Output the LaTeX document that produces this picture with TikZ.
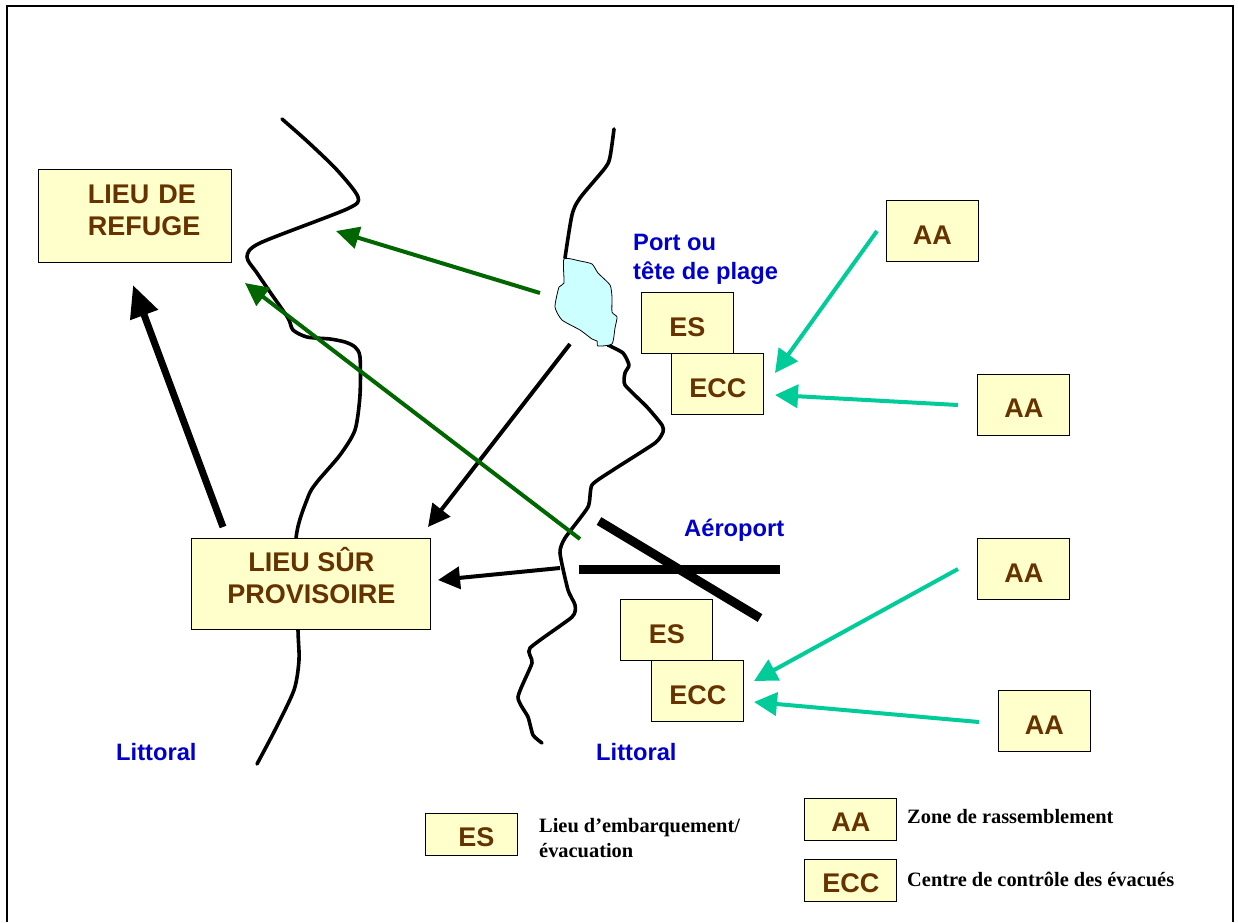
\documentclass[tikz,border=0pt]{standalone}
\usepackage{fontspec,xcolor}
\setmainfont{Liberation Sans}
\newfontfamily\legendfont{Liberation Serif}
\usetikzlibrary{arrows.meta}
\definecolor{boxfill}{HTML}{FFFFCC}
\definecolor{boxtext}{HTML}{663300}
\definecolor{placeblue}{HTML}{0000CC}
\definecolor{routegreen}{HTML}{006600}
\definecolor{routeteal}{HTML}{00CC99}
\definecolor{lakefill}{HTML}{CCFFFF}
\tikzset{
bigbox/.style={draw=black,line width=1pt,fill=boxfill,text=boxtext,inner sep=0pt,xshift=0.4pt,yshift=-0.4pt,font=\fontsize{27}{32}\selectfont\bfseries},
placebox/.style={bigbox,text height=25.5pt,text depth=0pt,minimum width=92pt,minimum height=61pt},
keybox/.style={placebox,text height=24pt,minimum height=42pt},
placename/.style={text=placeblue,inner sep=0pt,align=left,anchor=base west,font=\fontsize{23.7}{29}\selectfont\bfseries},
keytext/.style={inner sep=0pt,align=left,anchor=base west,font=\legendfont\fontsize{20.4}{25}\selectfont\bfseries},
coastline/.style={line width=3.6pt,line cap=round,line join=round},
runway/.style={line width=9pt},
bigroute/.style={line width=7pt,-{Triangle[length=32pt,width=28pt]}},
blackroute/.style={line width=4pt,-{Triangle[length=22pt,width=22pt]}},
greenroute/.style={color=routegreen,line width=4pt,-{Triangle[length=23pt,width=22pt]}},
tealroute/.style={color=routeteal,line width=4pt,-{Triangle[length=23pt,width=23pt]}}
}
\begin{document}
\begin{tikzpicture}[x=1pt,y=-1pt]
\useasboundingbox(0,0)rectangle(1238,922);
\draw[line width=1.6pt](7,922)--(7,6)--(1233,6)--(1233,922);
\draw[coastline]plot[smooth,tension=0.45]coordinates{(282,119)(308,142)(337,170)(358,197)(347,209)(260,243)(247,257)(257,273)(270,292)(288,318)(293,330)(307,337)(330,339)(345,342)(355,347)(360,357)(360,395)(355,430)(340,455)(317,482)(308,497)(296,539)(298,630)(299,660)(294,690)(275,730)(257,764)};
\draw[coastline]plot[smooth,tension=0.45]coordinates{(614,129)(610,157)(605,168)(580,198)(572,215)(565,258)};
\draw[coastline]plot[smooth,tension=0.35]coordinates{(608,345)(623,353)(629,365)(625,373)(625,385)(647,407)(662,425)(663,432)(655,443)(613,470)(592,485)(588,507)(565,538)(560,553)(568,590)(575,605)(572,617)(530,648)(532,663)(518,697)(528,717)(533,735)(542,743)};
\draw[fill=lakefill,line width=0.8pt]plot[smooth cycle,tension=0.35]coordinates{(564,259)(580,261)(592,264)(598,273)(610,285)(612,297)(612,312)(617,317)(615,328)(612,344)(598,346)(597,341)(592,339)(580,330)(562,320)(555,307)(559,287)(564,283)};
\draw[runway](579,569.5)--(780,569.5);
\draw[runway](599,521)--(760,618);
\node[bigbox,minimum width=193pt,minimum height=93pt,align=left,text width=193pt,text depth=44pt](refuge)at(135,216){\hspace*{49pt}LIEU DE\\\hspace*{49pt}REFUGE};
\node[bigbox,minimum width=239pt,minimum height=91pt,align=center,text depth=18pt](provisoire)at(311,584){LIEU SÛR\\PROVISOIRE};
\node[placebox](esport)at(687,323){ES};
\node[placebox](eccport)at(717.5,384){ECC};
\node[placebox](esair)at(666.5,630){ES};
\node[placebox](eccair)at(697.5,691){ECC};
\node[placebox](aaone)at(932,231){AA};
\node[placebox](aatwo)at(1023.5,404.5){AA};
\node[placebox](aathree)at(1023.5,569){AA};
\node[placebox](aafour)at(1044,721){AA};
\node[keybox](keyes)at(471.5,834.5){\hspace*{9pt}ES};
\node[keybox](keyaa)at(850.5,819.5){AA};
\node[keybox](keyecc)at(850.5,880.5){ECC};
\node[placename](port)at(633,279){Port ou\\tête de plage};
\node[placename](airport)at(684,536){Aéroport};
\node[placename](coastwest)at(116,760){Littoral};
\node[placename](coasteast)at(596,760){Littoral};
\node[keytext](keyestext)at(539,857){Lieu d’embarquement/\\évacuation};
\node[keytext](keyaatext)at(907,823){Zone de rassemblement};
\node[keytext](keyecctext)at(907,886){Centre de contrôle des évacués};
\coordinate(lakewest)at(540,293);
\coordinate(lakesouth)at(570,344);
\coordinate(runwaywest)at(560,568);
\coordinate(runwaynorth)at(580,539);
\coordinate(refugeport)at(336,231);
\coordinate(refugeair)at(245,283);
\coordinate(refugein)at(133,285);
\coordinate(provout)at(223,527);
\coordinate(provport)at(428,527);
\coordinate(provair)at(438,580);
\coordinate(portnorth)at(775,373);
\coordinate(porteast)at(775,395);
\coordinate(airnorth)at(754,681);
\coordinate(aireast)at(754,702);
\coordinate(aaoneout)at(877,231);
\coordinate(aatwoout)at(958,405);
\coordinate(aathreeout)at(958,569);
\coordinate(aafourout)at(979,722);
\draw[bigroute](provout)--(refugein);
\draw[blackroute](lakesouth)--(provport);
\draw[blackroute](runwaywest)--(provair);
\draw[greenroute](lakewest)--(refugeport);
\draw[greenroute](runwaynorth)--(refugeair);
\draw[tealroute](aaoneout)--(portnorth);
\draw[tealroute](aatwoout)--(porteast);
\draw[tealroute](aathreeout)--(airnorth);
\draw[tealroute](aafourout)--(aireast);
\end{tikzpicture}
\end{document}
